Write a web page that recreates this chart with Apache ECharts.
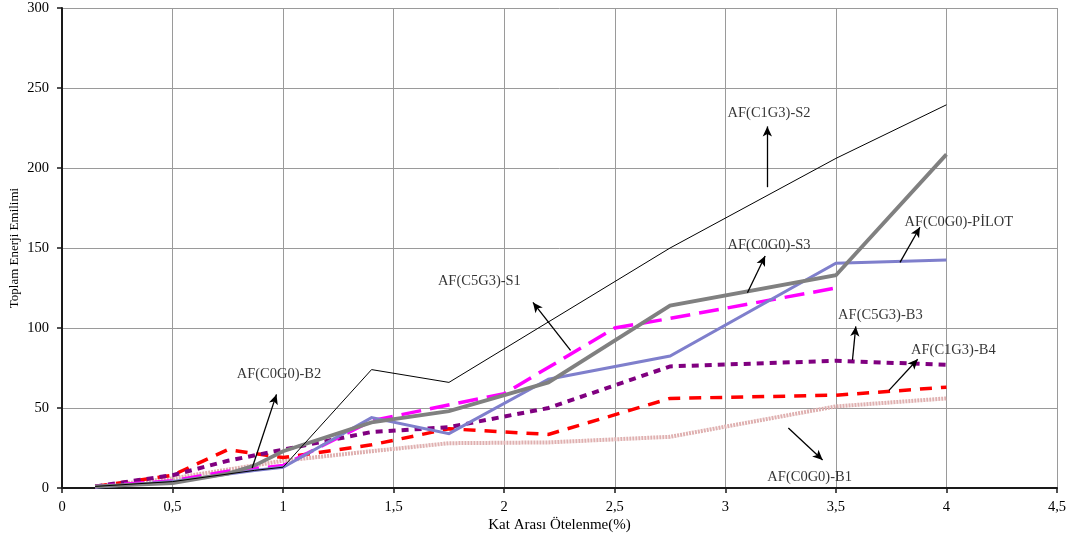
<!DOCTYPE html>
<html>
<head>
<meta charset="utf-8">
<script src="https://cdn.jsdelivr.net/npm/echarts@6/dist/echarts.min.js"></script>
<style>
  html, body { margin: 0; padding: 0; background: #fff; }
  #chart { width: 1074px; height: 542px; }
</style>
</head>
<body>
<div id="chart"></div>
<script>
// Drift ratio (%) vs. cumulative absorbed energy for each test frame
const seriesNames = ['AF(C0G0)-B1', 'AF(C1G3)-B4', 'AF(C5G3)-B3', 'AF(C5G3)-S1', 'AF(C0G0)-PİLOT', 'AF(C0G0)-S3', 'AF(C1G3)-S2'];

const b1Data    = [[0.15, 1], [0.5, 6], [1.0, 17], [1.4, 23], [1.75, 28], [2.2, 28.5], [2.75, 32], [3.5, 51], [4.0, 56]];
const b4Data    = [[0.15, 1], [0.5, 8], [0.75, 24], [1.0, 19], [1.4, 27], [1.75, 37], [2.2, 33.5], [2.75, 56], [3.5, 58], [4.0, 63]];
const b3Data    = [[0.15, 1], [0.5, 8], [0.75, 17], [1.0, 24], [1.4, 35], [1.75, 38], [2.2, 50], [2.75, 76], [3.5, 79.5], [4.0, 77]];
const s1Data    = [[0.15, 1], [0.5, 4.5], [0.75, 10.5], [1.0, 14], [1.4, 42], [2.0, 59], [2.5, 100], [2.75, 106], [3.5, 125]];
const pilotData = [[0.15, 0.5], [0.5, 4], [0.87, 11], [1.0, 13], [1.4, 44], [1.75, 34], [2.2, 68], [2.75, 82.5], [3.5, 140.5], [4.0, 142.5]];
const s3Data    = [[0.15, 1], [0.5, 3], [0.75, 9], [0.87, 14], [1.0, 23], [1.4, 41], [1.75, 48], [2.2, 66], [2.75, 114], [3.5, 133], [4.0, 208.5]];
const s2Data    = [[0.15, 1], [0.5, 4], [0.87, 11], [1.0, 13], [1.4, 74], [1.75, 66], [2.75, 150], [3.5, 206], [4.0, 239.5]];

// Callout labels: [text, x, y] (text starts at x, vertically centred on y)
const calloutLabels = [
  ['AF(C1G3)-S2', 3.01, 234],
  ['AF(C0G0)-PİLOT', 3.81, 166],
  ['AF(C0G0)-S3', 3.01, 152],
  ['AF(C5G3)-S1', 1.70, 129],
  ['AF(C5G3)-B3', 3.51, 108],
  ['AF(C1G3)-B4', 3.84, 86],
  ['AF(C0G0)-B1', 3.19, 7],
  ['AF(C0G0)-B2', 0.79, 71]
];
// Callout arrows: [fromX, fromY, toX, toY]
const calloutArrows = [
  [3.19, 188, 3.19, 226],
  [3.79, 141, 3.88, 163],
  [3.10, 122, 3.18, 145],
  [2.30, 86, 2.13, 116],
  [3.575, 80, 3.59, 101],
  [3.74, 61, 3.87, 80.5],
  [3.285, 37.5, 3.44, 17.5],
  [0.86, 12.5, 0.97, 58.5]
];

const xTicks = { min: 0, max: 4.5, interval: 0.5 };
const yTicks = { min: 0, max: 300, interval: 50 };

const serif = '"Liberation Serif", "DejaVu Serif", serif';

function lineSeries(name, data, color, width, type) {
  return {
    name: name,
    type: 'line',
    data: data,
    symbol: 'none',
    silent: true,
    lineStyle: { color: color, width: width, type: type, cap: 'butt', join: 'miter' }
  };
}

const chart = echarts.init(document.getElementById('chart'), null, { renderer: 'canvas' });

chart.setOption({
  animation: false,
  backgroundColor: '#ffffff',
  grid: { left: 62, right: 17, top: 8, bottom: 54, containLabel: false, outerBoundsMode: 'none' },
  xAxis: {
    type: 'value',
    min: xTicks.min, max: xTicks.max, interval: xTicks.interval,
    name: 'Kat Arası Ötelenme(%)',
    nameLocation: 'middle',
    nameGap: 30,
    nameMoveOverlap: false,
    nameTextStyle: { fontFamily: serif, fontSize: 15, color: '#000' },
    axisLine: { show: true, onZero: false, lineStyle: { color: '#1a1a1a', width: 2 } },
    axisTick: { show: true, inside: false, length: 5, lineStyle: { color: '#1a1a1a', width: 1.5 } },
    axisLabel: {
      fontFamily: serif, fontSize: 14.5, color: '#000', margin: 12,
      formatter: function (v) { return String(v).replace('.', ','); }
    },
    splitLine: { show: true, lineStyle: { color: '#9a9a9a', width: 1 } }
  },
  yAxis: {
    type: 'value',
    min: yTicks.min, max: yTicks.max, interval: yTicks.interval,
    name: 'Toplam Enerji Emilimi',
    nameLocation: 'middle',
    nameGap: 41,
    nameMoveOverlap: false,
    nameTextStyle: { fontFamily: serif, fontSize: 13, color: '#000' },
    axisLine: { show: true, onZero: false, lineStyle: { color: '#1a1a1a', width: 2 } },
    axisTick: { show: true, inside: false, length: 5, lineStyle: { color: '#1a1a1a', width: 1.5 } },
    axisLabel: { fontFamily: serif, fontSize: 14.5, color: '#000', margin: 13 },
    splitLine: { show: true, lineStyle: { color: '#9a9a9a', width: 1 } }
  },
  series: [
    lineSeries(seriesNames[0], b1Data, '#dfb0b0', 4, [2, 1]),
    lineSeries(seriesNames[1], b4Data, '#ff0000', 3.5, [12, 9]),
    lineSeries(seriesNames[2], b3Data, '#800080', 4, [7, 6]),
    lineSeries(seriesNames[3], s1Data, '#ff00ff', 3.5, [20, 9]),
    lineSeries(seriesNames[4], pilotData, '#7f7fcc', 3, 'solid'),
    lineSeries(seriesNames[5], s3Data, '#808080', 3.8, 'solid'),
    lineSeries(seriesNames[6], s2Data, '#000000', 1, 'solid'),
    {
      name: 'callouts',
      type: 'scatter',
      silent: true,
      symbolSize: 0,
      data: calloutLabels.map(function (c) { return { name: c[0], value: [c[1], c[2]] }; }),
      label: {
        show: true,
        position: 'right',
        distance: 0,
        formatter: function (p) { return p.name; },
        fontFamily: serif,
        fontSize: 14.5,
        color: '#000'
      },
      markLine: {
        silent: true,
        symbol: ['none', 'arrow'],
        symbolSize: [7, 10],
        label: { show: false },
        lineStyle: { color: '#000', width: 1.3, type: 'solid' },
        data: calloutArrows.map(function (a) {
          return [{ coord: [a[0], a[1]] }, { coord: [a[2], a[3]] }];
        })
      }
    }
  ]
});
</script>
</body>
</html>
